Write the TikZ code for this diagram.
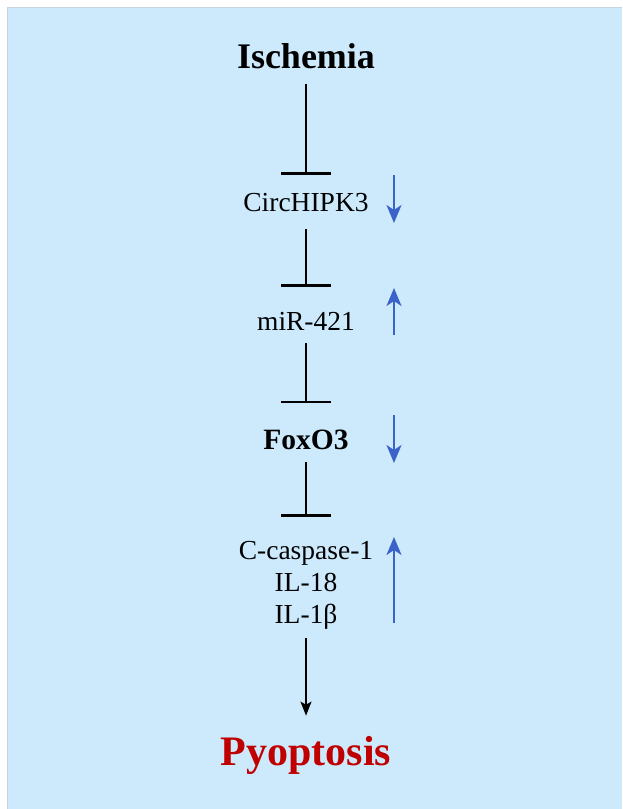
\documentclass[tikz,border=0pt]{standalone}
\usepackage{fontspec}
\setmainfont{Liberation Serif}
\usetikzlibrary{arrows.meta}
\definecolor{bgblue}{RGB}{205,234,253}
\definecolor{edgegray}{RGB}{200,212,222}
\definecolor{arrowblue}{RGB}{58,98,200}
\definecolor{pyored}{RGB}{192,0,0}
\tikzset{
  txt/.style={inner sep=0pt, anchor=base, font=\fontsize{27.5}{32}\selectfont},
  boldtxt/.style={txt, font=\fontsize{29.5}{34}\selectfont\bfseries},
  inhib/.style={line width=2.2pt, -{Bar[width=50pt, line width=2.2pt]}},
  activ/.style={line width=1.8pt, -{Stealth[length=14pt, width=11pt, inset=3pt]}},
  change/.style={arrowblue, line width=2.2pt, -{Stealth[length=18pt, width=15pt, inset=5pt]}}
}
\begin{document}
\begin{tikzpicture}[x=1pt, y=-1pt]
\useasboundingbox (0,0) rectangle (622,809);
\fill[bgblue] (7,7) rectangle (622,809);
\draw[edgegray, line width=0.8pt] (7,809) -- (7,7) -- (622,7);

\node[txt, font=\fontsize{36}{40}\selectfont\bfseries] (isch) at (306,68) {Ischemia};
\node[txt] (circ) at (306,211) {CircHIPK3};
\node[txt] (mir) at (306,330) {miR-421};
\node[boldtxt] (fox) at (306,449) {FoxO3};
\node[txt] (c1) at (306,559) {C-caspase-1};
\node[txt] (c2) at (306,591) {IL-18};
\node[txt] (c3) at (306,623) {IL-1β};
\node[txt, font=\fontsize{42}{46}\selectfont\bfseries, text=pyored] (pyo) at (306,765) {Pyoptosis};

\draw[inhib] ([yshift=-15pt]isch.south) -- ([yshift=18pt]circ.north);
\draw[inhib] ([yshift=-18pt]circ.south) -- ([yshift=25pt]mir.north);
\draw[inhib] ([yshift=-13pt]mir.south) -- ([yshift=26pt]fox.north);
\draw[inhib] ([yshift=-13pt]fox.south) -- ([yshift=24pt]c1.north);
\draw[activ] ([yshift=-9pt]c3.south) -- ([yshift=20pt]pyo.north);

\draw[change] (394,175) -- (394,223);
\draw[change] (394,335) -- (394,288);
\draw[change] (394,415) -- (394,463);
\draw[change] (394,623) -- (394,537);
\end{tikzpicture}
\end{document}
